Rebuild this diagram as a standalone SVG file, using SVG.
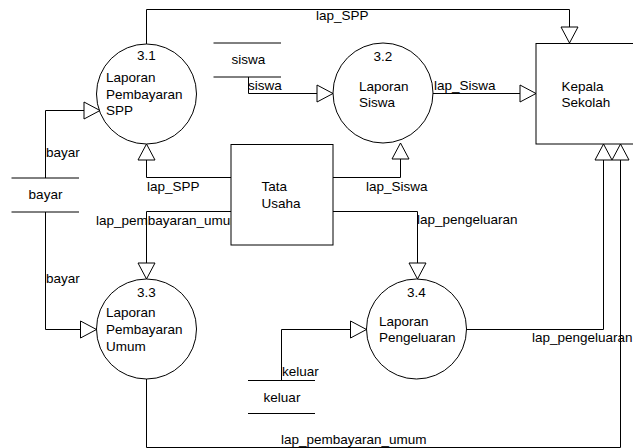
<svg xmlns="http://www.w3.org/2000/svg" width="633" height="448" viewBox="0 0 633 448">
<defs>
<marker id="arr" markerUnits="userSpaceOnUse" markerWidth="18" markerHeight="19" refX="16" refY="8.5" orient="auto" overflow="visible">
<path d="M0,0 L16,8.5 L0,17 Z" fill="#fff" stroke="#000" stroke-width="1"/>
</marker>
<style>
.ln{fill:none;stroke:#000;stroke-width:1}
.nd{fill:#fff;stroke:#000;stroke-width:1}
text{font-family:"Liberation Sans",Arial,sans-serif;font-size:13.5px;fill:#000}
.c{text-anchor:middle}
</style>
</defs>
<rect width="633" height="448" fill="#fff"/>
<g id="connectors">
<path class="ln" d="M146.5,44 V9.5 H569.5 V43" marker-end="url(#arr)"/>
<text x="316" y="20">lap_SPP</text>
<path class="ln" d="M248.5,77 V93.5 H333" marker-end="url(#arr)"/>
<text x="248" y="90">siswa</text>
<path class="ln" d="M45.5,178 V110.5 H100" marker-end="url(#arr)"/>
<text x="46" y="157">bayar</text>
<path class="ln" d="M45.5,212 V329.5 H96.5" marker-end="url(#arr)"/>
<text x="46" y="283">bayar</text>
<path class="ln" d="M231,177.5 H146.5 V144" marker-end="url(#arr)"/>
<text x="147" y="191">lap_SPP</text>
<path class="ln" d="M231,211.5 H146.5 V279" marker-end="url(#arr)"/>
<text x="96" y="225">lap_pembayaran_umum</text>
<path class="ln" d="M333,177.5 H400.5 V143" marker-end="url(#arr)"/>
<text x="366" y="191">lap_Siswa</text>
<path class="ln" d="M333,211.5 H417.5 V279" marker-end="url(#arr)"/>
<text x="417" y="224">lap_pengeluaran</text>
<path class="ln" d="M433,93.5 H536" marker-end="url(#arr)"/>
<text x="434" y="90">lap_Siswa</text>
<path class="ln" d="M466.5,329.5 H603.5 V144" marker-end="url(#arr)"/>
<text x="532" y="342">lap_pengeluaran</text>
<path class="ln" d="M146.5,379 V447.5 H620.5 V144" marker-end="url(#arr)"/>
<text x="281" y="444">lap_pembayaran_umum</text>
<path class="ln" d="M281.5,380 V329.5 H366.5" marker-end="url(#arr)"/>
<text x="282" y="376">keluar</text>
</g>
<g id="p31">
<circle class="nd" cx="146.5" cy="94" r="50"/>
<text class="c" x="146.5" y="60">3.1</text>
<text x="106" y="82">Laporan</text>
<text x="106" y="98.5">Pembayaran</text>
<text x="106" y="115">SPP</text>
</g>
<g id="p32">
<circle class="nd" cx="383" cy="93" r="50"/>
<text class="c" x="383" y="61">3.2</text>
<text x="359" y="90.5">Laporan</text>
<text x="359" y="107">Siswa</text>
</g>
<g id="p33">
<circle class="nd" cx="146.5" cy="329" r="50"/>
<text class="c" x="146.5" y="296.5">3.3</text>
<text x="106" y="317">Laporan</text>
<text x="106" y="334">Pembayaran</text>
<text x="106" y="350.5">Umum</text>
</g>
<g id="p34">
<circle class="nd" cx="416.5" cy="329" r="50"/>
<text class="c" x="416.5" y="296.5">3.4</text>
<text x="379" y="325.5">Laporan</text>
<text x="379" y="342">Pengeluaran</text>
</g>
<g id="kepala">
<rect class="nd" x="536" y="43.5" width="100" height="100.5"/>
<text x="561.5" y="90.5">Kepala</text>
<text x="561.5" y="107">Sekolah</text>
</g>
<g id="tata">
<rect class="nd" x="231" y="144.5" width="102" height="100.5"/>
<text x="261.5" y="191">Tata</text>
<text x="261.5" y="207.5">Usaha</text>
</g>
<g id="ds-siswa">
<path class="ln" d="M213.5,43 H281 M213.5,77 H281"/>
<text class="c" x="248.5" y="64">siswa</text>
</g>
<g id="ds-bayar">
<path class="ln" d="M11.5,178 H79 M11.5,212 H79"/>
<text class="c" x="45.5" y="199">bayar</text>
</g>
<g id="ds-keluar">
<path class="ln" d="M248,380.5 H315 M248,413.5 H315"/>
<text class="c" x="282" y="401.5">keluar</text>
</g>
</svg>
